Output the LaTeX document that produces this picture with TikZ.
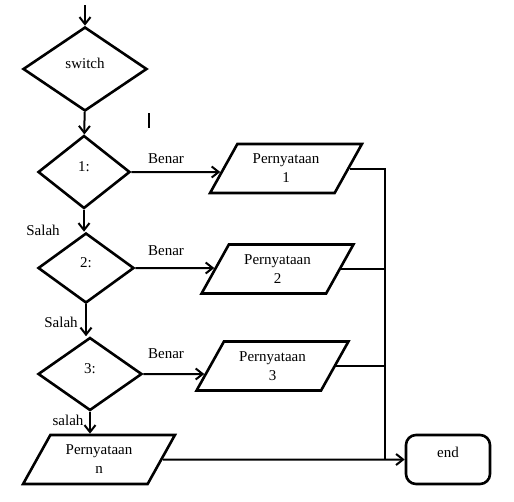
\documentclass[tikz,border=0pt]{standalone}
\usepackage{fontspec}
\setmainfont{Liberation Serif}
\usetikzlibrary{arrows.meta,positioning,shapes.geometric,calc,intersections}
\tikzset{
    decbox/.style={diamond, draw, line width=2.6pt, inner sep=1pt,
        text height=11pt, text depth=12pt},
    iobox/.style={trapezium, trapezium left angle=58, trapezium right angle=122,
        trapezium stretches=true, draw, line width=2.6pt, align=center,
        minimum width=152pt, minimum height=49pt, inner sep=1pt},
    endbox/.style={draw, rounded corners=10pt, line width=2.6pt,
        minimum width=84pt, minimum height=49pt, text height=11pt, text depth=15pt},
    flowarrow/.style={-{Straight Barb[length=7pt,width=11pt]}, line width=2pt},
    flowline/.style={line width=2pt}
}

\begin{document}
\begin{tikzpicture}[x=1pt, y=-1pt, font=\fontsize{15}{19}\selectfont]
\useasboundingbox (0,0) rectangle (514,501);
% main column
\coordinate (start) at (85,5);
\node[decbox, minimum width=124pt, minimum height=84pt] (sw) at (85,69) {switch};
\node[decbox, minimum width=92pt, minimum height=73pt] (case1) at (84,172) {1:};
\node[decbox, minimum width=96pt, minimum height=70pt] (case2) at (86,268) {2:};
\node[decbox, minimum width=104pt, minimum height=73pt] (case3) at (90,374) {3:};
\node[iobox] (stmtn) at (99,459.5) {Pernyataan\\n};
% branches
\node[iobox] (stmt1) at (286,168.5) {Pernyataan\\1};
\node[iobox] (stmt2) at (277.5,269) {Pernyataan\\2};
\node[iobox] (stmt3) at (272.5,366) {Pernyataan\\3};
\node[endbox] (end) at (448,459.5) {end};
\coordinate (bus) at (385,0);
\coordinate (caret) at (149,113);
% labels
\node (yes1) at (166,159) {Benar};
\node (yes2) at (166,251) {Benar};
\node (yes3) at (166,354) {Benar};
\node (no1) at (43,230) {Salah};
\node (no2) at (61,322) {Salah};
\node (no3) at (68,420) {salah};

\draw[flowarrow] (start) -- (sw);
\draw[flowarrow] (sw) -- (case1);
\draw[flowarrow] (case1.south) -- (case1.south |- case2.north);
\draw[flowarrow] (case2.south) -- (case2.south |- case3.north);
\draw[flowarrow] (case3.south) -- (case3.south |- stmtn.north);
\foreach \i in {1,2,3} {
  \path[name path=\i-side] (stmt\i.bottom left corner) -- (stmt\i.top left corner);
  \path[name path=\i-ray] (case\i.east) -- ++(200,0);
  \draw[flowarrow, name intersections={of=\i-side and \i-ray}] (case\i.east) -- (intersection-1);
}
\draw[flowline] (stmt1.east) -- (stmt1.east -| bus) -- (stmtn.east -| bus);
\draw[flowline] (stmt2.east) -- (stmt2.east -| bus);
\draw[flowline] (stmt3.east) -- (stmt3.east -| bus);
\draw[flowarrow] (stmtn.east) -- (end.west);
\draw[line width=1.6pt] (caret) -- ++(0,15);
\end{tikzpicture}
\end{document}
